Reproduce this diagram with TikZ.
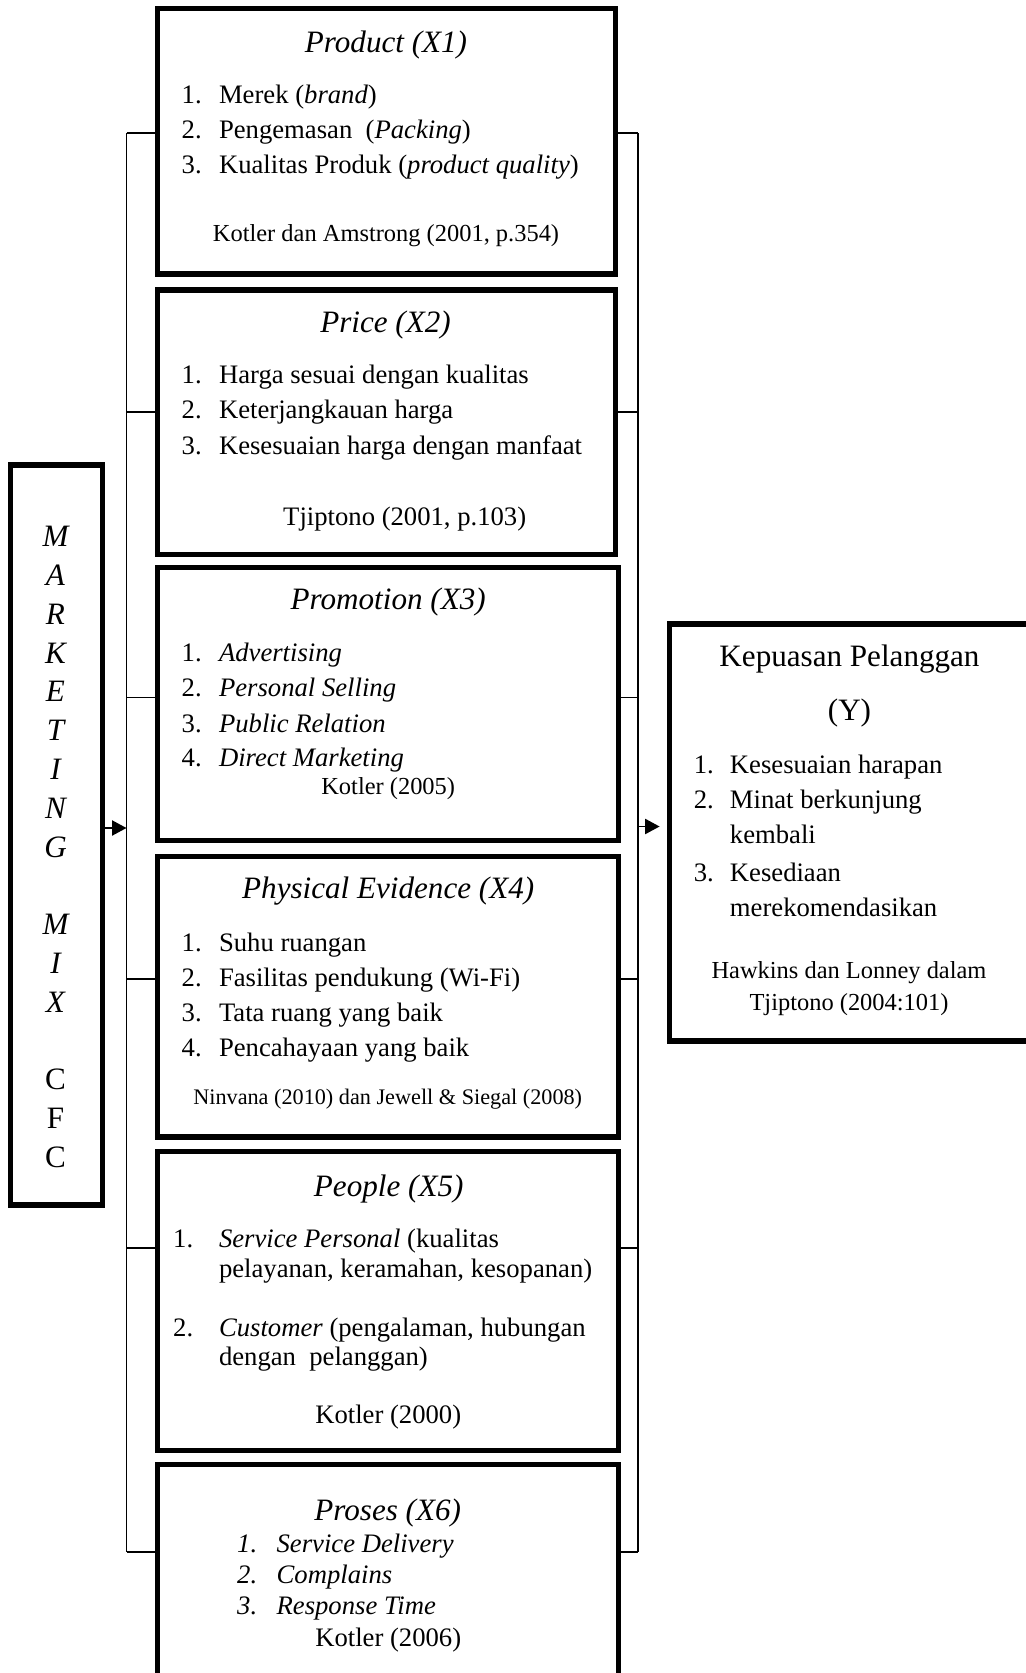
\documentclass[tikz,border=0pt]{standalone}
\usepackage{fontspec}
\setmainfont{Liberation Serif}
\usetikzlibrary{arrows.meta}

\newlength{\du}
\setlength{\du}{0.45pt}
\newcommand{\nomor}[2][37.3\du]{\makebox[#1][l]{#2}}

\definecolor{dialinecolor}{rgb}{0.000000, 0.000000, 0.000000}
\tikzset{
  thickbox/.style={draw=dialinecolor, line width=5.3\du, inner sep=0pt},
  busline/.style={draw=dialinecolor, line width=1.7\du},
  arrowline/.style={busline, -{Triangle[length=6.5pt,width=6.8pt]}},
  txt/.style={inner sep=0pt, yshift=-3\du},
  ttl/.style={txt, font=\fontsize{14}{17}\selectfont\itshape},
  itm/.style={txt, anchor=west, font=\fontsize{12}{14}\selectfont},
  src/.style={txt, font=\fontsize{12}{14}\selectfont},
  srcsmall/.style={txt, font=\fontsize{11}{13}\selectfont},
  srctiny/.style={txt, font=\fontsize{10}{12}\selectfont},
}

\begin{document}
\begin{tikzpicture}
\pgftransformxscale{1.000000}
\pgftransformyscale{-1.000000}
\useasboundingbox (0\du,0\du) rectangle (1026\du,1673\du);
\clip (0\du,0\du) rectangle (1026\du,1673\du);

% marketing mix
\node[thickbox, minimum width=91.7\du, minimum height=740\du] (mix) at (56.5\du,835\du) {};
\node[txt, align=center, font=\fontsize{14}{17.46}\selectfont\itshape] (mixlbl) at (55.5\du,844\du)
  {M\\A\\R\\K\\E\\T\\I\\N\\G\\[17.46pt]M\\I\\X\\[17.46pt]\upshape C\\\upshape F\\\upshape C};

% variabel X
\node[thickbox, minimum width=457.6\du, minimum height=265.5\du] (product) at (386.6\du,141.25\du) {};
\node[thickbox, minimum width=457.6\du, minimum height=264.6\du] (price) at (386.6\du,422.3\du) {};
\node[thickbox, minimum width=460.8\du, minimum height=273\du] (promotion) at (388.2\du,703.9\du) {};
\node[thickbox, minimum width=460.8\du, minimum height=280.6\du] (physical) at (388.2\du,996.7\du) {};
\node[thickbox, minimum width=460.8\du, minimum height=298.7\du] (people) at (388.2\du,1301.15\du) {};
\node[thickbox, minimum width=460.8\du, minimum height=235.7\du] (proses) at (388.2\du,1582.15\du) {};

% variabel Y
\node[thickbox, minimum width=430.2\du, minimum height=417\du] (kepuasan) at (884.9\du,832.5\du) {};

% Product
\node[ttl] (prodttl) at (386\du,41.6\du) {Product (X1)};
\node[itm] (prod1) at (181.3\du,93.9\du) {\nomor{1.}Merek (\textit{brand})};
\node[itm] (prod2) at (181.3\du,129\du) {\nomor{2.}Pengemasan\ \ (\textit{Packing})};
\node[itm] (prod3) at (181.3\du,164.2\du) {\nomor{3.}Kualitas Produk (\textit{product quality})};
\node[srcsmall] (prodsrc) at (386\du,232.5\du) {Kotler dan Amstrong (2001, p.354)};

% Price
\node[ttl] (pricettl) at (385.5\du,322\du) {Price (X2)};
\node[itm] (price1) at (181.3\du,374.3\du) {\nomor{1.}Harga sesuai dengan kualitas};
\node[itm] (price2) at (181.3\du,409.5\du) {\nomor{2.}Keterjangkauan harga};
\node[itm] (price3) at (181.3\du,444.7\du) {\nomor{3.}Kesesuaian harga dengan manfaat};
\node[src] (pricesrc) at (404.7\du,516.2\du) {Tjiptono (2001, p.103)};

% Promotion
\node[ttl] (promttl) at (388.2\du,599.4\du) {Promotion (X3)};
\node[itm] (prom1) at (181.3\du,651.6\du) {\nomor{1.}\textit{Advertising}};
\node[itm] (prom2) at (181.3\du,686.8\du) {\nomor{2.}\textit{Personal Selling}};
\node[itm] (prom3) at (181.3\du,720.5\du) {\nomor{3.}\textit{Public Relation}};
\node[itm] (prom4) at (181.3\du,757.2\du) {\nomor{4.}\textit{Direct Marketing}};
\node[srcsmall] (promsrc) at (388.2\du,786\du) {Kotler (2005)};

% Physical Evidence
\node[ttl] (physttl) at (388.2\du,888.4\du) {Physical Evidence (X4)};
\node[itm] (phys1) at (181.3\du,941.7\du) {\nomor{1.}Suhu ruangan};
\node[itm] (phys2) at (181.3\du,976.9\du) {\nomor{2.}Fasilitas pendukung (Wi-Fi)};
\node[itm] (phys3) at (181.3\du,1012.1\du) {\nomor{3.}Tata ruang yang baik};
\node[itm] (phys4) at (181.3\du,1047.3\du) {\nomor{4.}Pencahayaan yang baik};
\node[srctiny] (physsrc) at (387.7\du,1096.4\du) {Ninvana (2010) dan Jewell \& Siegal (2008)};

% People
\node[ttl] (peoplettl) at (388.7\du,1186\du) {People (X5)};
\node[itm] (people1) at (172.8\du,1238.2\du) {\nomor[45.8\du]{1.}\textit{Service Personal} (kualitas};
\node[itm] (people1b) at (218.6\du,1268\du) {pelayanan, keramahan, kesopanan)};
\node[itm] (people2) at (172.8\du,1326.7\du) {\nomor[45.8\du]{2.}\textit{Customer} (pengalaman, hubungan};
\node[itm] (people2b) at (218.6\du,1356.6\du) {dengan\ \ pelanggan)};
\node[src] (peoplesrc) at (388.2\du,1414.2\du) {Kotler (2000)};

% Proses
\node[ttl] (prosttl) at (387.7\du,1510\du) {Proses (X6)};
\node[itm, font=\fontsize{12}{14}\selectfont\itshape] (pros1) at (236.8\du,1543.2\du) {\nomor[39.4\du]{1.}Service Delivery};
\node[itm, font=\fontsize{12}{14}\selectfont\itshape] (pros2) at (236.8\du,1574.2\du) {\nomor[39.4\du]{2.}Complains};
\node[itm, font=\fontsize{12}{14}\selectfont\itshape] (pros3) at (236.8\du,1605.1\du) {\nomor[39.4\du]{3.}Response Time};
\node[src] (prossrc) at (388.2\du,1637\du) {Kotler (2006)};

% Kepuasan Pelanggan
\node[txt, font=\fontsize{14}{17}\selectfont] (kepttl) at (849.5\du,655.9\du) {Kepuasan Pelanggan};
\node[txt, font=\fontsize{14}{17}\selectfont] (kepy) at (849.5\du,710.3\du) {(Y)};
\node[itm] (kep1) at (693.3\du,763.6\du) {\nomor[36.2\du]{1.}Kesesuaian harapan};
\node[itm] (kep2) at (693.3\du,798.8\du) {\nomor[36.2\du]{2.}Minat berkunjung};
\node[itm] (kep2b) at (729.5\du,831.5\du) {kembali};
\node[itm] (kep3) at (693.3\du,869.2\du) {\nomor[36.2\du]{3.}Kesediaan};
\node[itm] (kep3b) at (729.5\du,904.4\du) {merekomendasikan};
\node[srcsmall, align=center, font=\fontsize{11}{14.4}\selectfont] (kepsrc) at (849\du,985.5\du) {Hawkins dan Lonney dalam\\Tjiptono (2004:101)};

% garis penghubung
\coordinate (l1) at (126.5\du,133.3\du);
\coordinate (l2) at (126.5\du,411.7\du);
\coordinate (l3) at (126.5\du,697.5\du);
\coordinate (l4) at (126.5\du,979\du);
\coordinate (l5) at (126.5\du,1247.8\du);
\coordinate (l6) at (126.5\du,1551.7\du);
\coordinate (r1) at (638.2\du,133.3\du);
\coordinate (r2) at (638.2\du,411.7\du);
\coordinate (r3) at (638.2\du,697.5\du);
\coordinate (r4) at (638.2\du,979\du);
\coordinate (r5) at (638.2\du,1247.8\du);
\coordinate (r6) at (638.2\du,1551.7\du);
\coordinate (lin) at (126.5\du,828\du);
\coordinate (rout) at (638.2\du,826.5\du);

\draw[busline] (l1) -- (l6);
\draw[busline] (r1) -- (r6);
\draw[busline] (l1) -- (l1 -| product.west);
\draw[busline] (l2) -- (l2 -| price.west);
\draw[busline] (l3) -- (l3 -| promotion.west);
\draw[busline] (l4) -- (l4 -| physical.west);
\draw[busline] (l5) -- (l5 -| people.west);
\draw[busline] (l6) -- (l6 -| proses.west);
\draw[busline] (product.east |- r1) -- (r1);
\draw[busline] (price.east |- r2) -- (r2);
\draw[busline] (promotion.east |- r3) -- (r3);
\draw[busline] (physical.east |- r4) -- (r4);
\draw[busline] (people.east |- r5) -- (r5);
\draw[busline] (proses.east |- r6) -- (r6);
\draw[arrowline] (mix.east |- lin) -- (lin);
\draw[arrowline, shorten >=3.4pt] (rout) -- (kepuasan.west |- rout);
\end{tikzpicture}
\end{document}
